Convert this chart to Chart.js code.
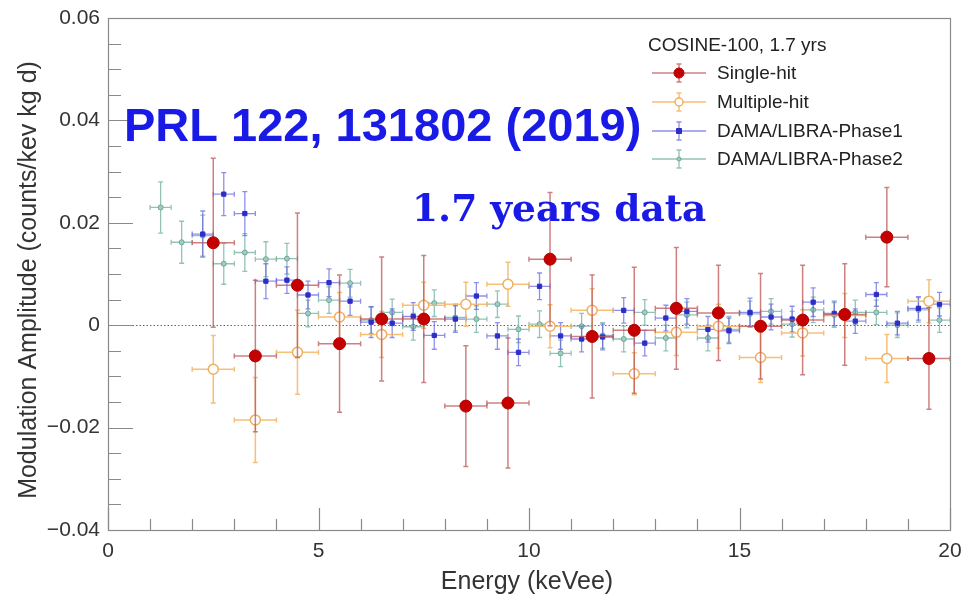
<!DOCTYPE html>
<html>
<head>
<meta charset="utf-8">
<script src="https://cdn.jsdelivr.net/npm/chart.js@4.4.0/dist/chart.umd.min.js"></script>
<style>
  body { margin: 0; background: #fff; }
  #plot { display: block; }
</style>
</head>
<body>
<canvas id="plot" width="964" height="602"></canvas>
<script>
// COSINE-100 single/multiple-hit amplitudes, 1 keV bins
const cosineEnergy = [2.5, 3.5, 4.5, 5.5, 6.5, 7.5, 8.5, 9.5, 10.5, 11.5, 12.5, 13.5, 14.5, 15.5, 16.5, 17.5, 18.5, 19.5];
const singleAmp = [0.0161, -0.0060, 0.0078, -0.0036, 0.0012, 0.0012, -0.0158, -0.0152, 0.0129, -0.0022, -0.0010, 0.0033, 0.0024, -0.0002, 0.0010, 0.0021, 0.0172, -0.0065];
const singleErr = [0.0165, 0.0148, 0.0141, 0.0134, 0.0121, 0.0124, 0.0118, 0.0127, 0.0130, 0.0120, 0.0123, 0.0119, 0.0093, 0.0103, 0.0107, 0.0099, 0.0097, 0.0099];
const multiAmp = [-0.0086, -0.0185, -0.0053, 0.0016, -0.0018, 0.0039, 0.0041, 0.0080, -0.0002, 0.0029, -0.0095, -0.0014, -0.0002, -0.0063, -0.0015, 0.0019, -0.0065, 0.0047];
const multiErr = [0.0066, 0.0083, 0.0082, 0.0048, 0.0045, 0.0045, 0.0043, 0.0043, 0.0042, 0.0042, 0.0041, 0.0045, 0.0043, 0.0049, 0.0045, 0.0043, 0.0047, 0.0042];

// DAMA/LIBRA, 0.5 keV bins
const phase1Energy = [2.25, 2.75, 3.25, 3.75, 4.25, 4.75, 5.25, 5.75, 6.25, 6.75, 7.25, 7.75, 8.25, 8.75, 9.25, 9.75, 10.25, 10.75, 11.25, 11.75, 12.25, 12.75, 13.25, 13.75, 14.25, 14.75, 15.25, 15.75, 16.25, 16.75, 17.25, 17.75, 18.25, 18.75, 19.25, 19.75];
const phase1Amp = [0.0178, 0.0256, 0.0218, 0.0086, 0.0088, 0.0059, 0.0083, 0.0047, 0.0006, 0.0004, 0.0017, -0.0020, 0.0012, 0.0057, -0.0021, -0.0053, 0.0076, -0.0021, -0.0027, -0.0023, 0.0029, -0.0035, 0.0014, 0.0027, -0.0008, -0.0011, 0.0025, 0.0016, 0.0012, 0.0045, 0.0023, 0.0008, 0.0060, 0.0004, 0.0033, 0.0041];
const phase1Err = [0.0045, 0.0042, 0.0043, 0.0034, 0.0026, 0.0027, 0.0027, 0.0028, 0.0030, 0.0028, 0.0027, 0.0027, 0.0026, 0.0026, 0.0026, 0.0026, 0.0026, 0.0026, 0.0025, 0.0025, 0.0025, 0.0025, 0.0025, 0.0025, 0.0025, 0.0025, 0.0028, 0.0025, 0.0025, 0.0028, 0.0024, 0.0024, 0.0023, 0.0023, 0.0023, 0.0023];
const phase2Energy = [1.25, 1.75, 2.25, 2.75, 3.25, 3.75, 4.25, 4.75, 5.25, 5.75, 6.25, 6.75, 7.25, 7.75, 8.25, 8.75, 9.25, 9.75, 10.25, 10.75, 11.25, 11.75, 12.25, 12.75, 13.25, 13.75, 14.25, 14.75, 15.25, 15.75, 16.25, 16.75, 17.25, 17.75, 18.25, 18.75, 19.25, 19.75];
const phase2Amp = [0.0230, 0.0162, 0.0175, 0.0120, 0.0142, 0.0129, 0.0130, 0.0023, 0.0049, 0.0082, 0.0010, 0.0025, -0.0003, 0.0043, 0.0015, 0.0012, 0.0041, -0.0008, 0.0002, -0.0055, -0.0002, -0.0020, -0.0027, 0.0025, -0.0025, 0.0020, -0.0025, -0.0008, 0.0022, 0.0027, 0.0002, 0.0030, 0.0020, 0.0025, 0.0025, 0.0000, 0.0030, 0.0010];
const phase2Err = [0.0050, 0.0041, 0.0040, 0.0040, 0.0037, 0.0034, 0.0030, 0.0026, 0.0026, 0.0027, 0.0026, 0.0026, 0.0026, 0.0026, 0.0026, 0.0026, 0.0026, 0.0026, 0.0026, 0.0026, 0.0025, 0.0025, 0.0025, 0.0025, 0.0025, 0.0025, 0.0025, 0.0025, 0.0025, 0.0025, 0.0025, 0.0025, 0.0024, 0.0024, 0.0024, 0.0024, 0.0024, 0.0024];

const yTicks = [-0.04, -0.02, 0, 0.02, 0.04, 0.06];
const xTicks = [0, 5, 10, 15, 20];

function points(es, amps, errs, halfWidth) {
  return es.map((e, i) => ({ x: e, y: amps[i], xErr: halfWidth, yErr: errs[i] }));
}

const FONT = '"Liberation Sans", Arial, Helvetica, sans-serif';

// error bars drawn under each dataset's markers
const errorBars = {
  id: 'errorBars',
  beforeDatasetDraw(chart, args) {
    const ds = chart.data.datasets[args.index];
    const xs = chart.scales.x, ys = chart.scales.y, ctx = chart.ctx;
    ctx.save();
    ctx.strokeStyle = ds.barColor;
    ctx.lineWidth = ds.barWidth;
    ds.data.forEach(p => {
      const px = xs.getPixelForValue(p.x), py = ys.getPixelForValue(p.y);
      const x0 = xs.getPixelForValue(p.x - p.xErr), x1 = xs.getPixelForValue(p.x + p.xErr);
      const y0 = ys.getPixelForValue(p.y + p.yErr), y1 = ys.getPixelForValue(p.y - p.yErr);
      ctx.beginPath();
      ctx.moveTo(x0, py); ctx.lineTo(x1, py);
      ctx.moveTo(px, y0); ctx.lineTo(px, y1);
      // small end caps
      ctx.moveTo(px - 2.5, y0); ctx.lineTo(px + 2.5, y0);
      ctx.moveTo(px - 2.5, y1); ctx.lineTo(px + 2.5, y1);
      ctx.moveTo(x0, py - 2.5); ctx.lineTo(x0, py + 2.5);
      ctx.moveTo(x1, py - 2.5); ctx.lineTo(x1, py + 2.5);
      ctx.stroke();
    });
    ctx.restore();
  }
};

// frame, inner ticks, zero line, titles, legend and notes
const decorations = {
  id: 'decorations',
  beforeDatasetsDraw(chart) {
    const ctx = chart.ctx, a = chart.chartArea;
    const ys = chart.scales.y;
    ctx.save();
    // dotted zero line
    ctx.strokeStyle = '#666';
    ctx.lineWidth = 1;
    ctx.setLineDash([1.5, 2]);
    const y0 = Math.round(ys.getPixelForValue(0)) + 0.5;
    ctx.beginPath(); ctx.moveTo(a.left, y0); ctx.lineTo(a.right, y0); ctx.stroke();
    ctx.setLineDash([]);
    ctx.restore();
  },
  afterDraw(chart) {
    const ctx = chart.ctx, a = chart.chartArea;
    const xs = chart.scales.x, ys = chart.scales.y;
    ctx.save();
    // frame
    ctx.strokeStyle = '#8a8a8a';
    ctx.lineWidth = 1.2;
    ctx.strokeRect(a.left + 0.5, a.top + 0.5, a.right - a.left, a.bottom - a.top);
    // y ticks every 0.005, major every 0.02
    ctx.beginPath();
    for (let k = -8; k <= 12; k++) {
      const y = Math.round(ys.getPixelForValue(k * 0.005)) + 0.5;
      const len = (k % 4 === 0) ? 25 : 13;
      ctx.moveTo(a.left, y); ctx.lineTo(a.left + len, y);
    }
    // x ticks every 1 keV, major every 5
    for (let k = 0; k <= 20; k++) {
      const x = Math.round(xs.getPixelForValue(k)) + 0.5;
      const len = (k % 5 === 0) ? 22 : 11;
      ctx.moveTo(x, a.bottom); ctx.lineTo(x, a.bottom - len);
    }
    ctx.stroke();

    // axis titles
    ctx.fillStyle = '#333';
    ctx.font = '25px ' + FONT;
    ctx.textAlign = 'center';
    ctx.textBaseline = 'middle';
    ctx.fillText('Energy (keVee)', 527, 582);
    ctx.save();
    ctx.translate(29, 280);
    ctx.rotate(-Math.PI / 2);
    ctx.fillText('Modulation Amplitude (counts/kev kg d)', 0, 0);
    ctx.restore();

    // legend
    ctx.textAlign = 'left';
    ctx.fillStyle = '#222';
    ctx.font = '19px ' + FONT;
    ctx.fillText('COSINE-100, 1.7 yrs', 648, 46);
    const rows = [73, 102, 131, 159];
    chart.data.datasets.forEach((ds, i) => {
      const y = rows[i], cx = 679;
      ctx.strokeStyle = ds.barColor;
      ctx.lineWidth = ds.barWidth;
      ctx.beginPath();
      ctx.moveTo(652, y); ctx.lineTo(706, y);
      ctx.moveTo(cx, y - 9); ctx.lineTo(cx, y + 9);
      ctx.moveTo(cx - 2.5, y - 9); ctx.lineTo(cx + 2.5, y - 9);
      ctx.moveTo(cx - 2.5, y + 9); ctx.lineTo(cx + 2.5, y + 9);
      ctx.stroke();
      ctx.fillStyle = ds.pointBackgroundColor;
      ctx.strokeStyle = ds.pointBorderColor;
      ctx.lineWidth = ds.pointBorderWidth;
      ctx.beginPath();
      const r = ds.legendRadius;
      if (ds.pointStyle === 'rect') {
        ctx.rect(cx - r, y - r, 2 * r, 2 * r);
      } else {
        ctx.arc(cx, y, r, 0, 2 * Math.PI);
      }
      ctx.fill(); ctx.stroke();
      ctx.fillStyle = '#222';
      ctx.fillText(ds.label, 717, y + 1);
    });

    // publication note
    ctx.fillStyle = '#1a1ae6';
    ctx.textBaseline = 'alphabetic';
    ctx.font = 'bold 47px ' + FONT;
    ctx.fillText('PRL 122, 131802 (2019)', 124, 141);
    ctx.font = 'bold 37.5px "DejaVu Serif", Georgia, serif';
    ctx.fillText('1.7 years data', 412, 221);
    ctx.restore();
  }
};

new Chart(document.getElementById('plot'), {
  type: 'scatter',
  data: {
    datasets: [
      {
        label: 'Single-hit',
        data: points(cosineEnergy, singleAmp, singleErr, 0.5),
        pointStyle: 'circle', pointRadius: 6, legendRadius: 5,
        pointBackgroundColor: '#c40000', pointBorderColor: '#b00000', pointBorderWidth: 1,
        barColor: 'rgba(190,85,85,0.75)', barWidth: 1.5,
        order: 0
      },
      {
        label: 'Multiple-hit',
        data: points(cosineEnergy, multiAmp, multiErr, 0.5),
        pointStyle: 'circle', pointRadius: 5, legendRadius: 4,
        pointBackgroundColor: '#ffffff', pointBorderColor: 'rgb(240,175,95)', pointBorderWidth: 1.5,
        barColor: 'rgba(245,185,105,0.9)', barWidth: 1.5,
        order: 1
      },
      {
        label: 'DAMA/LIBRA-Phase1',
        data: points(phase1Energy, phase1Amp, phase1Err, 0.25),
        pointStyle: 'rect', pointRadius: 3, legendRadius: 2.5,
        pointBackgroundColor: 'rgb(45,45,200)', pointBorderColor: 'rgb(45,45,200)', pointBorderWidth: 1,
        barColor: 'rgba(95,95,225,0.7)', barWidth: 1.3,
        order: 2
      },
      {
        label: 'DAMA/LIBRA-Phase2',
        data: points(phase2Energy, phase2Amp, phase2Err, 0.25),
        pointStyle: 'circle', pointRadius: 2.5, legendRadius: 2,
        pointBackgroundColor: 'rgba(160,205,195,1)', pointBorderColor: 'rgb(110,165,150)', pointBorderWidth: 1,
        barColor: 'rgba(120,180,165,0.8)', barWidth: 1.3,
        order: 3
      }
    ]
  },
  options: {
    responsive: false,
    animation: false,
    layout: { padding: { top: 18, right: 14, left: 0, bottom: 0 } },
    plugins: { legend: { display: false }, tooltip: { enabled: false } },
    scales: {
      x: {
        type: 'linear', min: 0, max: 20,
        afterBuildTicks: s => { s.ticks = xTicks.map(v => ({ value: v })); },
        afterFit: s => { s.height = 72; s.paddingLeft = 0; s.paddingRight = 0; },
        grid: { display: false, drawTicks: false },
        border: { display: false },
        ticks: { color: '#333', font: { size: 21, family: FONT }, padding: 9, maxRotation: 0 }
      },
      y: {
        type: 'linear', min: -0.04, max: 0.06,
        afterBuildTicks: s => { s.ticks = yTicks.map(v => ({ value: v })); },
        afterFit: s => { s.width = 108; s.paddingTop = 0; s.paddingBottom = 0; },
        grid: { display: false, drawTicks: false },
        border: { display: false },
        ticks: {
          color: '#333', font: { size: 21, family: FONT }, padding: 8,
          callback: v => v === 0 ? '0' : (v < 0 ? '\u2212' + Math.abs(v).toFixed(2) : v.toFixed(2))
        }
      }
    }
  },
  plugins: [errorBars, decorations]
});
</script>
</body>
</html>
